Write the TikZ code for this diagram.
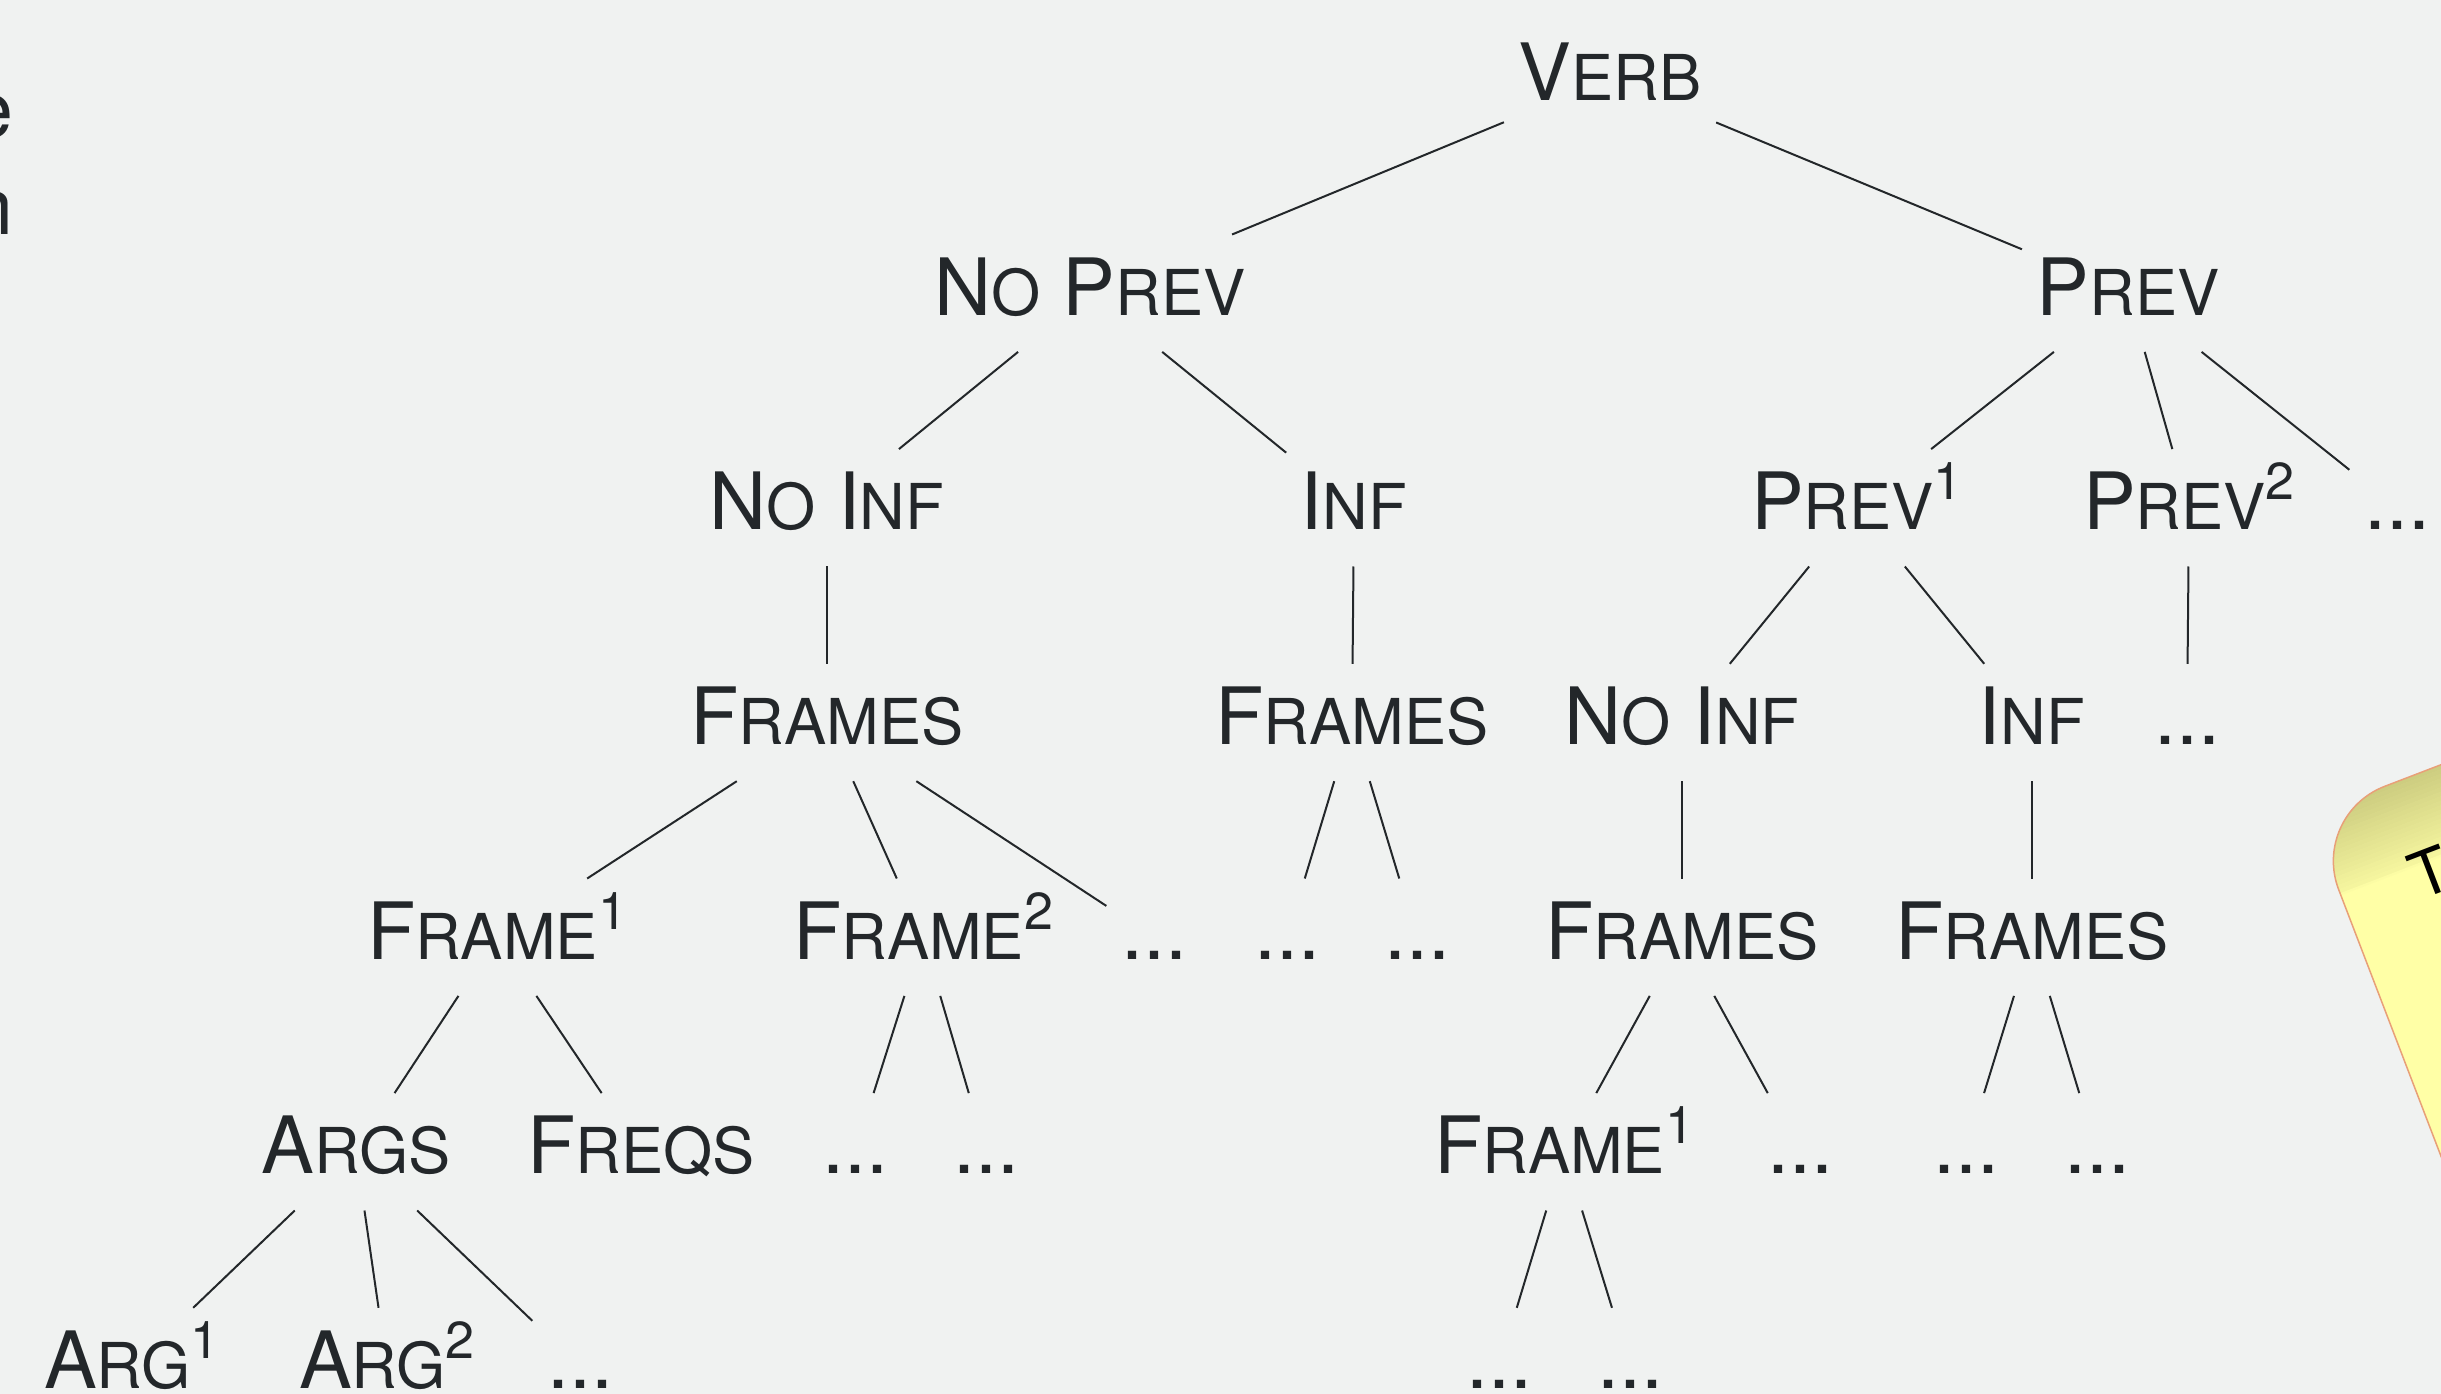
\documentclass[tikz,border=0pt]{standalone}
\usepackage{fontspec}
\setmainfont{TeX Gyre Heros}
\definecolor{bg}{RGB}{240,242,241}
\definecolor{ink}{RGB}{35,39,42}
\definecolor{noteyellow}{RGB}{255,255,166}
\definecolor{noteolive}{RGB}{205,205,128}
\definecolor{noteborder}{RGB}{232,160,120}
\newcommand\BIGF{\fontsize{22.5pt}{27pt}\selectfont}
\newcommand\SMF{\fontsize{18pt}{22pt}\selectfont}
\newcommand\sct[2]{{\BIGF #1}{\SMF #2}}
\newcommand\spx[1]{\raisebox{3mm}{\fontsize{14.8pt}{16pt}\selectfont #1}}
\tikzset{
  tn/.style={font=\BIGF, text=ink, inner xsep=1.4mm, inner ysep=2.3mm,
             text height=5.7mm, text depth=1.3mm, anchor=base},
  edge/.style={draw=ink, line width=0.2mm}
}
\begin{document}
\begin{tikzpicture}[x=0.1mm,y=-0.1mm]
\useasboundingbox (0,0) rectangle (2441,1394);
\clip (0,0) rectangle (2441,1394);
\fill[bg] (0,0) rectangle (2441,1394);

% partial text at the left edge
\node[font=\BIGF, text=ink, inner sep=0, anchor=base east] (le) at (14,138) {e};
\node[font=\BIGF, text=ink, inner sep=0, anchor=base east] (ln) at (14,235) {n};

% yellow note at the right edge
\begin{scope}[shift={(2310,815)}, rotate=21]
  \begin{scope}
    \clip[rounded corners=8mm] (0,0) rectangle (900,1300);
    \fill[noteyellow] (-20,-20) rectangle (920,1320);
    \foreach \i in {0,...,19}{
      \pgfmathsetmacro{\pc}{100-\i*4.2}
      \fill[noteolive!\pc!noteyellow] (-20,{\i*4.2-0.2}) rectangle (920,{\i*4.2+4.4});
    }
    \fill[noteolive!6!noteyellow] (-20,83.8) rectangle (920,86);
  \end{scope}
  \draw[noteborder, line width=0.15mm, rounded corners=8mm] (0,0) rectangle (900,1300);
  \node[transform shape, font=\fontsize{18pt}{22pt}\selectfont, text=black, inner sep=0, anchor=center] (nt) at (92,96) {T};
\end{scope}

% level 0
\node[tn] (v) at (1610,100.5) {\sct{V}{ERB}};
% level 1
\node[tn] (np) at (1090,315.2) {\sct{N}{O} \sct{P}{REV}};
\node[tn] (p) at (2128,315.2) {\sct{P}{REV}};
% level 2
\node[tn] (ni1) at (827,529.8) {\sct{N}{O} \sct{I}{NF}};
\node[tn] (inf1) at (1354,529.8) {\sct{I}{NF}};
\node[tn] (p1) at (1857,529.8) {\sct{P}{REV}\spx{1}};
\node[tn] (p2) at (2189,529.8) {\sct{P}{REV}\spx{2}};
\node[tn] (pd) at (2397,529.8) {...};
% level 3
\node[tn] (fr1) at (827,744.5) {\sct{F}{RAMES}};
\node[tn] (fr2) at (1352,744.5) {\sct{F}{RAMES}};
\node[tn] (ni2) at (1682,744.5) {\sct{N}{O} \sct{I}{NF}};
\node[tn] (inf2) at (2032,744.5) {\sct{I}{NF}};
\node[tn] (dd3) at (2187,744.5) {...};
% level 4
\node[tn] (f1) at (497,959.2) {\sct{F}{RAME}\spx{1}};
\node[tn] (f2) at (923,959.2) {\sct{F}{RAME}\spx{2}};
\node[tn] (d4a) at (1154,959.2) {...};
\node[tn] (d4b) at (1287,959.2) {...};
\node[tn] (d4c) at (1417,959.2) {...};
\node[tn] (fr3) at (1682,959.2) {\sct{F}{RAMES}};
\node[tn] (fr4) at (2032,959.2) {\sct{F}{RAMES}};
% level 5
\node[tn] (args) at (356,1173.8) {\sct{A}{RGS}};
\node[tn] (freqs) at (641,1173.8) {\sct{F}{REQS}};
\node[tn] (d5a) at (855,1173.8) {...};
\node[tn] (d5b) at (986,1173.8) {...};
\node[tn] (f1b) at (1564,1173.8) {\sct{F}{RAME}\spx{1}};
\node[tn] (d5c) at (1800,1173.8) {...};
\node[tn] (d5d) at (1966,1173.8) {...};
\node[tn] (d5e) at (2097,1173.8) {...};
% level 6
\node[tn] (a1) at (132,1388.5) {\sct{A}{RG}\spx{1}};
\node[tn] (a2) at (387,1388.5) {\sct{A}{RG}\spx{2}};
\node[tn] (d6a) at (580,1388.5) {...};
\node[tn] (d6b) at (1499,1388.5) {...};
\node[tn] (d6c) at (1630,1388.5) {...};

% edges
\draw[edge] (v) -- (np);
\draw[edge] (v) -- (p);
\draw[edge] (np) -- (ni1);
\draw[edge] (np) -- (inf1);
\draw[edge] (p) -- (p1);
\draw[edge] (p) -- (p2);
\draw[edge] (p) -- (pd);
\draw[edge] (ni1) -- (fr1);
\draw[edge] (inf1) -- (fr2);
\draw[edge] (p1) -- (ni2);
\draw[edge] (p1) -- (inf2);
\draw[edge] (p2) -- (dd3);
\draw[edge] (fr1) -- (f1);
\draw[edge] (fr1) -- (f2);
\draw[edge] (fr1) -- (d4a);
\draw[edge] (fr2) -- (d4b);
\draw[edge] (fr2) -- (d4c);
\draw[edge] (ni2) -- (fr3);
\draw[edge] (inf2) -- (fr4);
\draw[edge] (f1) -- (args);
\draw[edge] (f1) -- (freqs);
\draw[edge] (f2) -- (d5a);
\draw[edge] (f2) -- (d5b);
\draw[edge] (fr3) -- (f1b);
\draw[edge] (fr3) -- (d5c);
\draw[edge] (fr4) -- (d5d);
\draw[edge] (fr4) -- (d5e);
\draw[edge] (args) -- (a1);
\draw[edge] (args) -- (a2);
\draw[edge] (args) -- (d6a);
\draw[edge] (f1b) -- (d6b);
\draw[edge] (f1b) -- (d6c);
\end{tikzpicture}
\end{document}
